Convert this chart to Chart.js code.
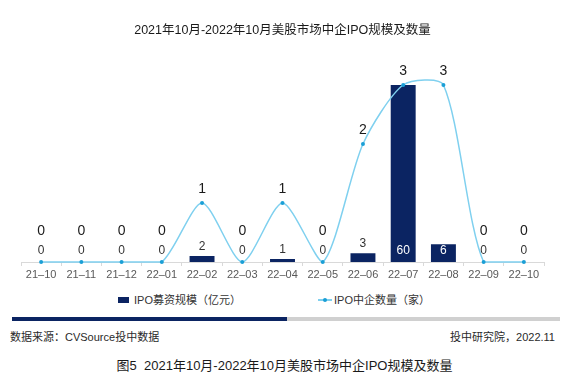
<!DOCTYPE html>
<html>
<head>
<meta charset="utf-8">
<script src="https://cdn.jsdelivr.net/npm/chart.js@4"></script>
<style>
  html, body { margin:0; padding:0; background:#fff; }
  body { width:569px; height:382px; position:relative; overflow:hidden;
         font-family:"Liberation Sans","Noto Sans CJK SC",sans-serif; }
  #wrap { position:absolute; left:0; top:0; width:569px; height:290px; }
  .abs { position:absolute; white-space:pre; }
</style>
</head>
<body>
<div id="wrap"><canvas id="c"></canvas></div>
<div id="legend"></div>
<div class="abs" style="left:12px;top:317px;width:275px;height:4px;background:#0b2462;"></div>
<div class="abs" style="left:287px;top:317px;width:273px;height:4px;background:#d0d0d0;"></div>
<div class="abs" style="left:10px;top:330px;font-size:11px;line-height:14px;color:#2a2a2a;">数据来源：CVSource投中数据</div>
<div class="abs" style="right:14px;top:330px;font-size:11px;line-height:14px;color:#2a2a2a;text-align:right;">投中研究院，2022.11</div>
<div class="abs" style="left:0;width:569px;top:358px;font-size:13px;line-height:16px;color:#1a1a1a;text-align:center;">图5  2021年10月-2022年10月美股市场中企IPO规模及数量</div>
<script>
const FONT = '"Liberation Sans", "Noto Sans CJK SC", sans-serif';
const chartTitle = '2021年10月-2022年10月美股市场中企IPO规模及数量';
const months = ['21–10','21–11','21–12','22–01','22–02','22–03','22–04','22–05','22–06','22–07','22–08','22–09','22–10'];
const amountLabel = 'IPO募资规模（亿元）';
const countLabel = 'IPO中企数量（家）';
const ipoAmount = [0, 0, 0, 0, 2, 0, 1, 0, 3, 60, 6, 0, 0];
const ipoCount  = [0, 0, 0, 0, 1, 0, 1, 0, 2, 3, 3, 0, 0];

const BAR_COLOR = '#0b2462';
const LINE_COLOR = '#7fd0ef';
const POINT_COLOR = '#1a9fd6';

const labelPlugin = {
  id: 'valueLabels',
  afterDatasetsDraw(chart) {
    const ctx = chart.ctx;
    const base = chart.scales.y.getPixelForValue(0);
    ctx.save();
    ctx.textAlign = 'center';
    ctx.textBaseline = 'middle';
    chart.getDatasetMeta(0).data.forEach((el, i) => {
      const v = ipoAmount[i];
      const h = base - el.y;
      ctx.font = '12px ' + FONT;
      if (h > 14) {
        ctx.fillStyle = '#ffffff';
        ctx.fillText(String(v), el.x, base - 11);
      } else {
        ctx.fillStyle = '#333333';
        ctx.fillText(String(v), el.x, Math.min(el.y - 9, base - 11));
      }
    });
    chart.getDatasetMeta(1).data.forEach((el, i) => {
      const v = ipoCount[i];
      ctx.font = '14px ' + FONT;
      ctx.fillStyle = '#1a1a1a';
      ctx.fillText(String(v), el.x, el.y - (v === 0 ? 31 : 14));
    });
    ctx.restore();
  }
};

Chart.defaults.font.family = FONT;
const chart = new Chart(document.getElementById('c'), {
  data: {
    labels: months,
    datasets: [
      { type: 'bar', label: amountLabel, data: ipoAmount, yAxisID: 'y',
        backgroundColor: BAR_COLOR, borderWidth: 0,
        barPercentage: 0.62, categoryPercentage: 1, order: 2 },
      { type: 'line', label: countLabel, data: ipoCount, yAxisID: 'y1',
        borderColor: LINE_COLOR, borderWidth: 1.5, tension: 0.25,
        pointRadius: 2, pointBackgroundColor: POINT_COLOR, pointBorderWidth: 0,
        pointHoverRadius: 2, clip: false, order: 1 }
    ]
  },
  options: {
    responsive: true, maintainAspectRatio: false, animation: false, devicePixelRatio: 1,
    layout: { padding: { left: 21, right: 25, top: 0, bottom: 0 } },
    plugins: {
      legend: { display: false },
      tooltip: { enabled: false },
      title: { display: true, text: chartTitle, color: '#1a1a1a',
               font: { size: 12.5, weight: 'normal', family: FONT, lineHeight: 1.2 },
               padding: { top: 23, bottom: 17.5 } }
    },
    scales: {
      x: {
        grid: { offset: true, drawOnChartArea: false, drawTicks: true, tickLength: 4, color: '#d9d9d9' },
        border: { display: true, color: '#d9d9d9' },
        ticks: { color: '#595959', font: { size: 11 }, padding: 2, maxRotation: 0, autoSkip: false },
        afterFit(s) { s.height = 28; }
      },
      y: { display: false, min: 0, max: 70 },
      y1: { display: false, min: 0, max: 3.5, position: 'right' }
    }
  },
  plugins: [labelPlugin]
});

// HTML legend built from the chart's datasets
const lg = document.getElementById('legend');
const ds = chart.data.datasets;
lg.innerHTML =
  '<div class="abs" style="left:118px;top:297px;width:11px;height:6px;background:' + ds[0].backgroundColor + ';"></div>' +
  '<div class="abs" style="left:134px;top:293px;font-size:11px;line-height:14px;color:#333;">' + ds[0].label + '</div>' +
  '<div class="abs" style="left:318px;top:299px;width:14px;height:1.5px;background:' + ds[1].borderColor + ';"></div>' +
  '<div class="abs" style="left:323px;top:298px;width:4px;height:4px;border-radius:2px;background:' + ds[1].pointBackgroundColor + ';"></div>' +
  '<div class="abs" style="left:334px;top:293px;font-size:11px;line-height:14px;color:#333;">' + ds[1].label + '</div>';
</script>
</body>
</html>
